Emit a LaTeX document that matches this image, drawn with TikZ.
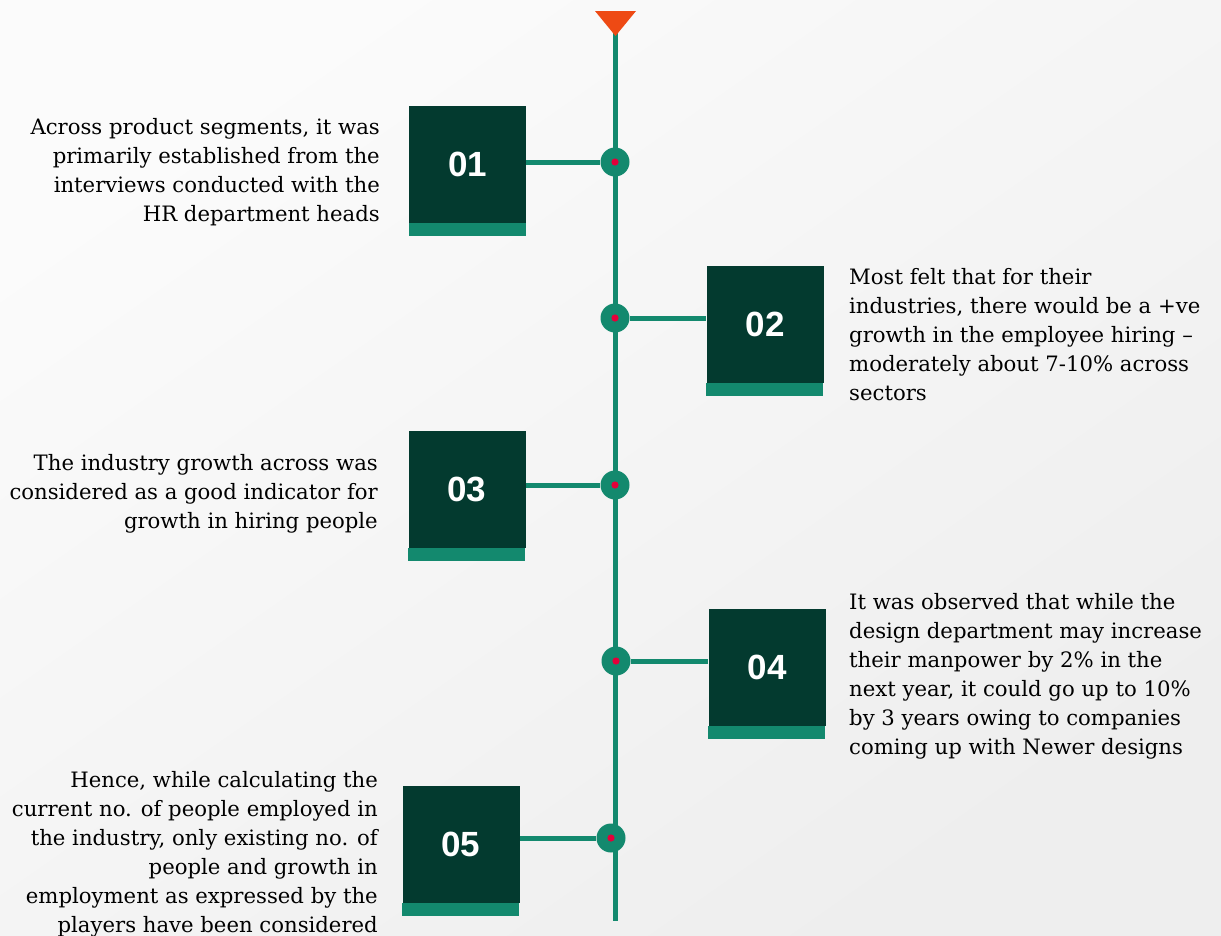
\documentclass[tikz,border=0pt]{standalone}
\usepackage{fontspec}
\setmainfont{DejaVu Serif}
\newfontfamily\numfont{Liberation Sans}
\definecolor{bgA}{HTML}{FBFBFB}
\definecolor{bgB}{HTML}{EEEEEE}
\definecolor{boxdark}{HTML}{033A2F}
\definecolor{tealc}{HTML}{13896E}
\definecolor{tri}{HTML}{EE4A14}
\definecolor{reddot}{HTML}{E4003A}
\tikzset{
  numbox/.style={rectangle, fill=boxdark, minimum width=117pt, minimum height=117pt, inner sep=0pt,
    text=white, font=\numfont\bfseries\fontsize{35}{40}\selectfont},
  tldot/.style={circle, fill=tealc, minimum size=29pt, inner sep=0pt},
  conn/.style={draw=tealc, line width=5pt},
  desc/.style={inner sep=0pt, text=black, font=\fontsize{21.2}{29}\selectfont},
}
\newcommand{\strip}[1]{\fill[tealc] (#1.south west) rectangle ++(117,13);}
\newcommand{\inner}[1]{\fill[reddot] (#1.center) circle (3.6pt);}
\begin{document}
\begin{tikzpicture}[x=1pt,y=-1pt]
\useasboundingbox (0,0) rectangle (1221,935);
\shade[top color=bgA, bottom color=bgB, shading angle=35] (0,0) rectangle (1221,935);
% timeline
\coordinate (top) at (615,28);
\coordinate (bot) at (615,921);
\draw[conn] (top) -- (bot);
\fill[tri] (595,11) -- (636,11) -- (615.5,36) -- cycle;
% dots
\node[tldot] (d1) at (615,162) {};
\node[tldot] (d2) at (615,318) {};
\node[tldot] (d3) at (615,485) {};
\node[tldot] (d4) at (616,661) {};
\node[tldot] (d5) at (611,838) {};
% boxes
\node[numbox] (b1) at (467.5,164) {01};
\node[numbox] (b2) at (765,324.5) {02};
\node[numbox] (b3) at (467,489.5) {03};
\node[numbox] (b4) at (767,667) {04};
\node[numbox] (b5) at (461,844) {05};
\strip{b1}\strip{b2}\strip{b3}\strip{b4}\strip{b5}
% connectors
\draw[conn] (d1) -- (d1 -| b1.east);
\draw[conn] (d2) -- (d2 -| b2.west);
\draw[conn] (d3) -- (d3 -| b3.east);
\draw[conn] (d4) -- (d4 -| b4.west);
\draw[conn] (d5) -- (d5 -| b5.east);
\inner{d1}\inner{d2}\inner{d3}\inner{d4}\inner{d5}
% texts
\node[desc, anchor=north east, align=right] (t1) at (380,113.7) {\strut Across product segments, it was\\ primarily established from the\\ interviews conducted with the\\ HR department heads};
\node[desc, anchor=north west, align=left] (t2) at (849,263.7) {\strut Most felt that for their\\ industries, there would be a +ve\\ growth in the employee hiring --\\ moderately about 7-10\% across\\ sectors};
\node[desc, anchor=north east, align=right] (t3) at (378,449.7) {\strut The industry growth across was\\ considered as a good indicator for\\ growth in hiring people};
\node[desc, anchor=north west, align=left] (t4) at (849,588.7) {\strut It was observed that while the\\ design department may increase\\ their manpower by 2\% in the\\ next year, it could go up to 10\%\\ by 3 years owing to companies\\ coming up with Newer designs};
\node[desc, anchor=north east, align=right] (t5) at (378,766.7) {\strut Hence, while calculating the\\ current no. of people employed in\\ the industry, only existing no. of\\ people and growth in\\ employment as expressed by the\\ players have been considered};
\end{tikzpicture}
\end{document}
